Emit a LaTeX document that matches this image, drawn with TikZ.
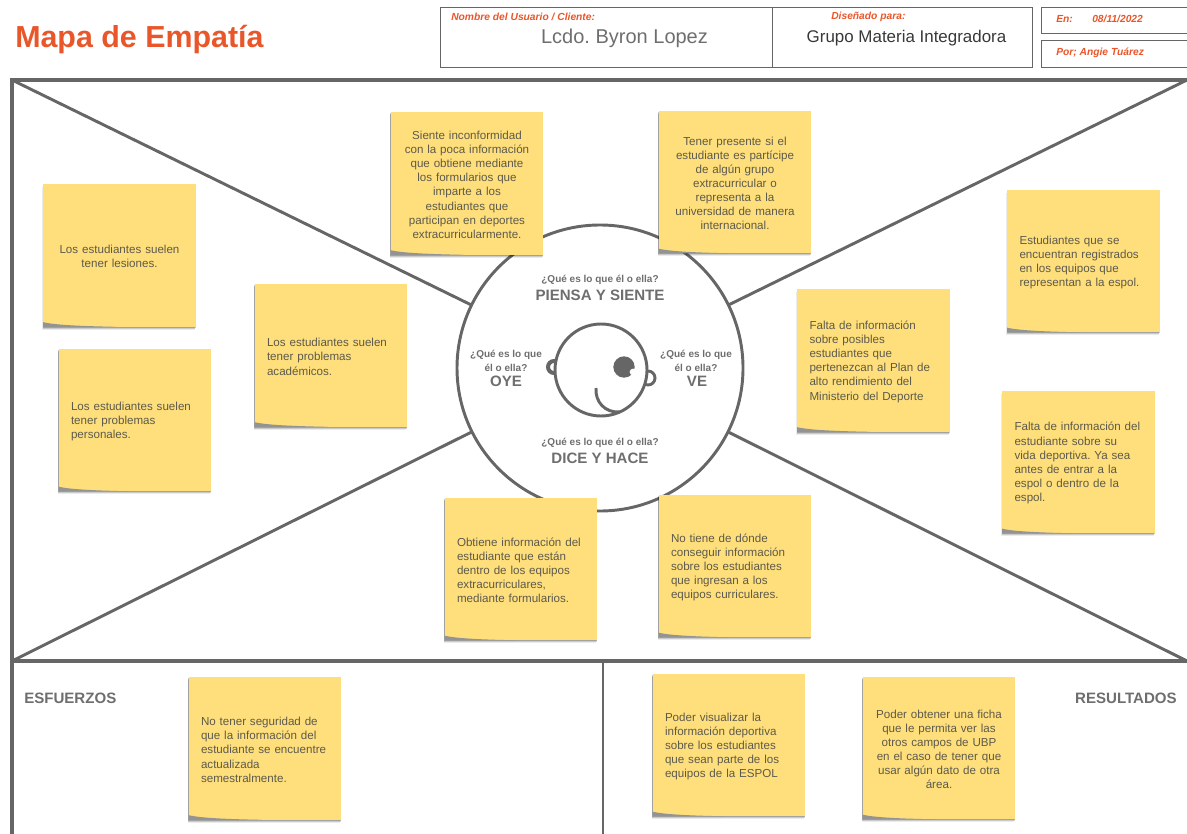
\documentclass[tikz,border=0pt]{standalone}
\usepackage{fontspec}
\setmainfont{Liberation Sans}
\usetikzlibrary{shadows}
\frenchspacing
\definecolor{frameline}{HTML}{666666}
\definecolor{notefill}{HTML}{FFDF7C}
\definecolor{notetext}{HTML}{5C5A4C}
\definecolor{titleorange}{HTML}{E8562A}
\definecolor{softgray}{HTML}{6E6E6E}
\begin{document}
\begin{tikzpicture}[x=0.75pt,y=-0.75pt,
        frame line/.style={draw=frameline,line width=2.6pt},
        thin line/.style={draw=frameline,line width=2.2pt},
        header box/.style={rectangle,draw=frameline,line width=0.6pt,inner sep=0pt,outer sep=0pt},
        small label/.style={anchor=west,inner sep=0pt,text=titleorange,font=\fontsize{7.7}{9}\selectfont\bfseries\itshape},
        note node/.style={rectangle,fill=notefill,inner sep=0pt,outer sep=0pt,minimum width=114.5pt,minimum height=107pt,
            text width=96pt,text=notetext,font=\fontsize{8.7}{10.6}\selectfont,align=left,
            execute at begin node={\rule{0pt}{8.2pt}},
            drop shadow={shadow xshift=-0.8pt,shadow yshift=-2.2pt,fill=black,opacity=0.08},
            drop shadow={shadow xshift=-0.5pt,shadow yshift=-1.5pt,fill=black,opacity=0.14},
            drop shadow={shadow xshift=-0.2pt,shadow yshift=-0.8pt,fill=black,opacity=0.2},
            path picture={\fill[gray!85] ([yshift=3.5pt]path picture bounding box.south west)
                .. controls +(10pt,-2.5pt) and +(-18pt,0.4pt) .. ([xshift=55pt]path picture bounding box.south west)
                -- (path picture bounding box.south west) -- cycle;}},
        center note/.style={note node,align=center,text width=106pt},
        question/.style={inner sep=0pt,align=center,text=softgray,font=\fontsize{7.5}{10.5}\selectfont\bfseries},
        heading/.style={inner sep=0pt,text=softgray,font=\fontsize{11.3}{13}\selectfont\bfseries},
        face part/.style={circle,draw=frameline,line width=2.2pt,fill=white,inner sep=0pt,outer sep=0pt}]

    \useasboundingbox (0,0) rectangle (1187,834);

    % header
    \node[anchor=west,inner sep=0pt,text=titleorange,font=\fontsize{22.8}{26}\selectfont\bfseries] (title) at (15,40) {Mapa de Empatía};
    \node[header box,minimum width=249pt,minimum height=45pt,anchor=north west] (user) at (440,7) {};
    \node[header box,minimum width=195pt,minimum height=45pt,anchor=north west] (designed) at (772,7) {};
    \node[header box,minimum width=109.5pt,minimum height=19.5pt,anchor=north west] (date) at (1041,7) {};
    \node[header box,minimum width=109.5pt,minimum height=20.25pt,anchor=north west] (by) at (1041,40) {};
    \node[small label] (userlabel) at (451,17) {Nombre del Usuario / Cliente:};
    \node[inner sep=0pt,text=softgray,font=\fontsize{15}{18}\selectfont] (username) at (624.5,38) {Lcdo. Byron Lopez};
    \node[small label] (designedlabel) at (831,17) {Diseñado para:};
    \node[inner sep=0pt,text=black!78,font=\fontsize{12.7}{15}\selectfont] (group) at (906.5,38) {Grupo Materia Integradora};
    \node[small label] (datelabel) at (1056,19) {En:};
    \node[small label] (datevalue) at (1092,19) {08/11/2022};
    \node[small label] (bylabel) at (1056,53) {Por; Angie Tuárez};

    % frame
    \coordinate (tl) at (12,80);
    \coordinate (tr) at (1187,80);
    \coordinate (ml) at (12,661);
    \coordinate (mr) at (1187,661);
    \coordinate (bl) at (12,834);
    \coordinate (mm) at (603,661);
    \coordinate (bm) at (603,834);
    \draw[frame line] (tr) -- (tl) -- (bl);
    \draw[frame line] (ml) -- (mr);
    \draw[thin line] (mm) -- (bm);
    \node[circle,thin line,inner sep=0pt,outer sep=0pt,minimum size=214.5pt] (center) at (600,368) {};
    \path[thin line]
    (tl) edge (center)
    (tr) edge (center)
    (ml) edge (center)
    (mr) edge (center);

    % face
    \node[face part,minimum size=9pt,line width=3pt] (leftear) at (554,367) {};
    \node[face part,minimum size=10.5pt] (rightear) at (648,378) {};
    \node[face part,minimum size=69pt] (face) at (601,370) {};
    \node[circle,fill=frameline,inner sep=0pt,minimum size=16pt] (eye) at (624,367) {};
    \node[circle,fill=white,inner sep=0pt,minimum size=5pt] (glint) at (633,372) {};
    \coordinate (mouthtop) at (596,388);
    \coordinate (mouthend) at (620,412);
    \draw[draw=frameline,line width=2.2pt] (mouthtop) .. controls (595,402) and (605,413) .. (mouthend);

    % circle texts
    \node[question] (q1) at (600,280) {¿Qué es lo que él o ella?};
    \node[heading] (piensa) at (600,295) {PIENSA Y SIENTE};
    \node[question] (q2) at (506,361) {¿Qué es lo que\\él o ella?};
    \node[heading] (oye) at (506,381) {OYE};
    \node[question] (q3) at (696,361) {¿Qué es lo que\\él o ella?};
    \node[heading] (ve) at (697,381) {VE};
    \node[question] (q4) at (600,443) {¿Qué es lo que él o ella?};
    \node[heading] (dice) at (600,458) {DICE Y HACE};

    % notes
    \node[center note] (oye1) at (119.5,255.5) {Los estudiantes suelen\\tener lesiones.};
    \node[note node] (oye2) at (135,420) {Los estudiantes suelen\\tener problemas\\personales.};
    \node[note node] (oye3) at (331,355.5) {Los estudiantes suelen\\tener problemas\\académicos.};
    \node[center note] (piensa1) at (467,183.5) {Siente inconformidad\\con la poca información\\que obtiene mediante\\los formularios que\\imparte a los\\estudiantes que\\participan en deportes\\extracurricularmente.};
    \node[center note] (piensa2) at (735,182) {Tener presente si el\\estudiante es partícipe\\de algún grupo\\extracurricular o\\representa a la\\universidad de manera\\internacional.};
    \node[note node] (ve1) at (1083.5,261) {Estudiantes que se\\encuentran registrados\\en los equipos que\\representan a la espol.};
    \node[note node] (ve2) at (873.5,360.5) {Falta de información\\sobre posibles\\estudiantes que\\pertenezcan al Plan de\\alto rendimiento del\\Ministerio del Deporte};
    \node[note node] (ve3) at (1078.5,462) {Falta de información del\\estudiante sobre su\\vida deportiva. Ya sea\\antes de entrar a la\\espol o dentro de la\\espol.};
    \node[note node] (dice1) at (521,569) {Obtiene información del\\estudiante que están\\dentro de los equipos\\extracurriculares,\\mediante formularios.};
    \node[note node] (dice2) at (735,566) {No tiene de dónde\\conseguir información\\sobre los estudiantes\\que ingresan a los\\equipos curriculares.};
    \node[note node] (esf1) at (265,748.5) {No tener seguridad de\\que la información del\\estudiante se encuentre\\actualizada\\semestralmente.};
    \node[note node] (res1) at (729,745) {Poder visualizar la\\información deportiva\\sobre los estudiantes\\que sean parte de los\\equipos de la ESPOL};
    \node[center note] (res2) at (939,748) {Poder obtener una ficha\\que le permita ver las\\otros campos de UBP\\en el caso de tener que\\usar algún dato de otra\\área.};

    % bottom titles
    \node[heading,anchor=west] (esfuerzos) at (24,698) {ESFUERZOS};
    \node[heading,anchor=east] (resultados) at (1177,698) {RESULTADOS};
\end{tikzpicture}
\end{document}
